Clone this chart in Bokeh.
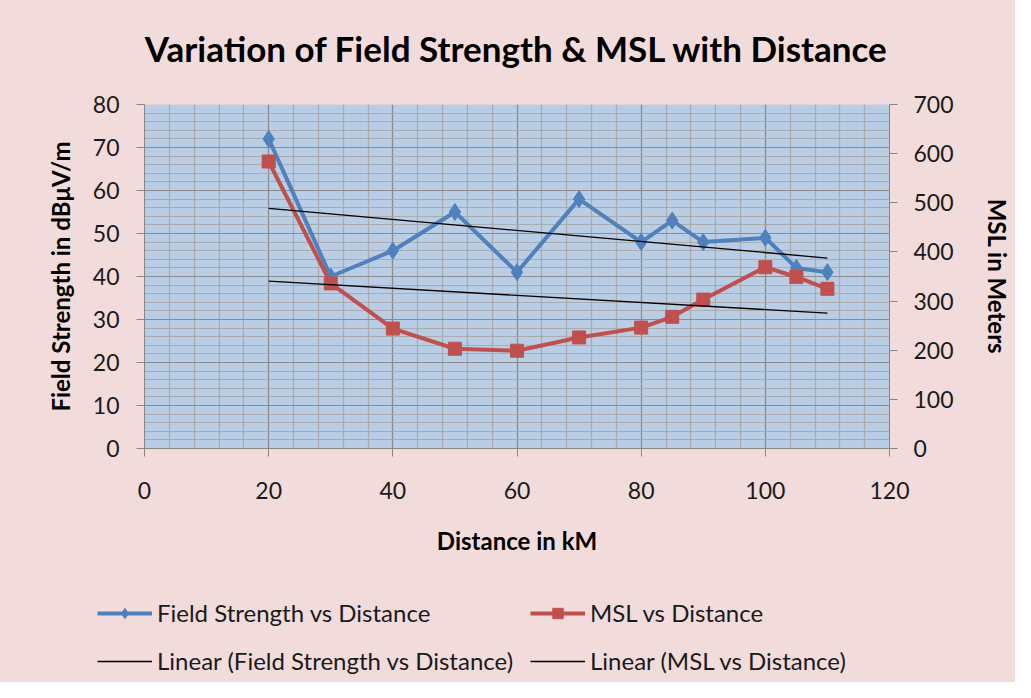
import numpy as np
from bokeh.plotting import figure
from bokeh.layouts import column
from bokeh.models import Range1d, LinearAxis, SingleIntervalTicker, Legend, LegendItem, Title
from bokeh.embed import file_html
from bokeh.resources import INLINE

# ---- data ----
distance = [20, 30, 40, 50, 60, 70, 80, 85, 90, 100, 105, 110]
field_strength = [72, 40, 46, 55, 41, 58, 48, 53, 48, 49, 42, 41]
msl = [584, 336, 244, 203, 199, 226, 246, 268, 303, 369, 349, 325]

title_text = "Variation of Field Strength & MSL with Distance"
x_label = "Distance in kM"
y_label = "Field Strength in dB\u03bcV/m"
y2_label = "MSL in Meters"
series_names = ["Field Strength vs Distance", "MSL vs Distance",
                "Linear (Field Strength vs Distance)", "Linear (MSL vs Distance)"]

# linear trends (least squares, as the spreadsheet trendline)
fs_fit = np.polyfit(distance, field_strength, 1)
msl_fit = np.polyfit(distance, msl, 1)
trend_x = [min(distance), max(distance)]
fs_trend = list(np.polyval(fs_fit, trend_x))
msl_trend = list(np.polyval(msl_fit, trend_x))

FONT = "Lato"
BLUE = "#4F81BD"
RED = "#C0504D"
PAGE_BG = "#F2DCDB"

p = figure(frame_width=745, frame_height=344,
           x_range=Range1d(0, 120), y_range=Range1d(0, 80),
           output_backend="svg", toolbar_location=None,
           min_border_left=144, min_border_right=126,
           min_border_top=104, min_border_bottom=130,
           background_fill_color="#B9CDE5", border_fill_color=PAGE_BG,
           outline_line_color=None, title=title_text)

p.extra_y_ranges = {"msl": Range1d(0, 700)}

# title (spacer title keeps it higher above the plot area)
p.title.align = "center"
p.title.text_font = FONT
p.title.text_font_size = "35px"
p.title.text_font_style = "bold"
p.title.text_color = "#000000"
p.title.standoff = 10
p.add_layout(Title(text=" ", text_font_size="2px", standoff=27), "above")

# axes
def style_axis(ax):
    ax.axis_line_color = "#868686"
    ax.major_tick_line_color = "#868686"
    ax.minor_tick_line_color = None
    ax.major_tick_in = 0
    ax.major_tick_out = 8
    ax.major_label_text_font = FONT
    ax.major_label_text_font_size = "23px"
    ax.major_label_text_color = "#1a1a1a"
    ax.axis_label_text_font = FONT
    ax.axis_label_text_font_size = "24px"
    ax.axis_label_text_font_style = "bold"
    ax.axis_label_text_color = "#000000"

p.xaxis.ticker = SingleIntervalTicker(interval=20, num_minor_ticks=5)
p.yaxis.ticker = SingleIntervalTicker(interval=10, num_minor_ticks=5)
p.xaxis.axis_label = x_label
p.yaxis.axis_label = y_label
style_axis(p.xaxis[0])
style_axis(p.yaxis[0])
p.xaxis.major_label_standoff = 25
p.xaxis.axis_label_standoff = 24
p.yaxis.major_label_standoff = 17
p.yaxis.axis_label_standoff = 15

y2 = LinearAxis(y_range_name="msl", axis_label=y2_label,
                ticker=SingleIntervalTicker(interval=100, num_minor_ticks=0))
style_axis(y2)
y2.major_label_standoff = 16
y2.axis_label_standoff = 26
p.add_layout(y2, "right")

# grids
for g in (p.xgrid[0], p.ygrid[0]):
    g.grid_line_color = "#8C8C8C"
    g.grid_line_width = 1.2
    g.minor_grid_line_color = "#A9A9A9"
    g.minor_grid_line_width = 1.2
    g.minor_grid_line_alpha = 0.9

def draw_series(fig, y2name):
    fl = fig.line(distance, field_strength, line_color=BLUE, line_width=4)
    fp = fig.scatter(distance, field_strength, marker="diamond", size=17,
                     fill_color=BLUE, line_color=BLUE)
    ml = fig.line(distance, msl, y_range_name=y2name, line_color=RED, line_width=4)
    mp = fig.scatter(distance, msl, y_range_name=y2name, marker="square", size=13,
                     fill_color=RED, line_color=RED)
    ft = fig.line(trend_x, fs_trend, line_color="#000000", line_width=1.3)
    mt = fig.line(trend_x, msl_trend, y_range_name=y2name, line_color="#000000", line_width=1.3)
    return fl, fp, ml, mp, ft, mt

draw_series(p, "msl")

# ---- legend strip below the chart (its own plot, series lie outside its view) ----
lg = figure(width=1015, height=104, x_range=Range1d(1000, 1001), y_range=Range1d(1000, 1001),
            output_backend="svg", toolbar_location=None,
            min_border=0, x_axis_type=None, y_axis_type=None,
            background_fill_color=PAGE_BG, border_fill_color=PAGE_BG,
            outline_line_color=None)
lg.grid.visible = False
lg.extra_y_ranges = {"msl": Range1d(1000, 1001)}
fl, fp, ml, mp, ft, mt = draw_series(lg, "msl")

for fig in (p, lg):
    try:
        fig.frame_align = False
    except Exception:
        pass

def make_legend(items, loc):
    L = Legend(items=items, location=loc, orientation="vertical")
    L.background_fill_alpha = 0
    L.border_line_alpha = 0
    L.padding = 0
    L.margin = 0
    L.spacing = 19
    L.glyph_width = 55
    L.glyph_height = 26
    L.label_height = 26
    L.label_standoff = 5
    L.label_text_font = FONT
    L.label_text_font_size = "24px"
    L.label_text_color = "#1a1a1a"
    L.label_text_baseline = "middle"
    return L

leg1 = make_legend([LegendItem(label=series_names[0], renderers=[fl, fp]),
                    LegendItem(label=series_names[2], renderers=[ft])], (97, 7))
leg2 = make_legend([LegendItem(label=series_names[1], renderers=[ml, mp]),
                    LegendItem(label=series_names[3], renderers=[mt])], (530, 7))
lg.add_layout(leg1, "center")
lg.add_layout(leg2, "center")

layout = column(p, lg, spacing=0, styles={"background-color": PAGE_BG})
open("out.html", "w").write(file_html(layout, INLINE))
